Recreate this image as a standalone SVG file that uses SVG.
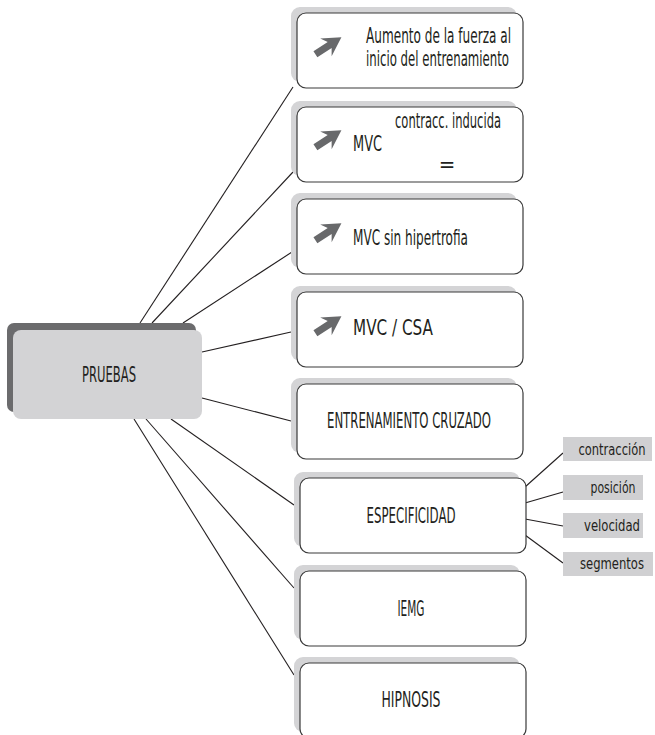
<svg xmlns="http://www.w3.org/2000/svg" width="655" height="735" viewBox="0 0 655 735">
  <style>
    .shadow { fill: #d4d4d6; }
    .card { fill: #ffffff; stroke: #3a3a3a; stroke-width: 1.2; }
    .txt { font-family: "Liberation Sans Narrow", "DejaVu Sans Condensed", "Liberation Sans", sans-serif; font-size: 22px; fill: #231f20; }
    .small { font-size: 15px; text-anchor: middle; }
    .mid { text-anchor: middle; }
    .tag { fill: #d0d0d2; }
    .link { stroke: #231f20; stroke-width: 1.1; fill: none; }
    .up { fill: #68696b; }
  </style>
  <defs>
    <!-- heavy diagonal "increase" arrow -->
    <path id="rise" class="up" transform="rotate(-33)" d="M-15,-3.6 L2,-3.6 L-2.5,-10.5 L16,0 L-2.5,10.5 L2,3.6 L-15,3.6 Z"/>
    <!-- card shape: shadow offset up-left, white rounded panel -->
    <g id="card">
      <rect class="shadow" x="-6" y="-6" width="226" height="75" rx="9"/>
      <rect class="card" x="0" y="0" width="226" height="75" rx="9"/>
    </g>
  </defs>

  <!-- connectors -->
  <g id="connectors">
    <line class="link" x1="140" y1="323" x2="293" y2="87"/>
    <line class="link" x1="152" y1="323" x2="293" y2="172"/>
    <line class="link" x1="183" y1="323" x2="292" y2="252"/>
    <line class="link" x1="202" y1="352" x2="291" y2="332"/>
    <line class="link" x1="202" y1="398" x2="291" y2="421"/>
    <line class="link" x1="171" y1="419" x2="294" y2="505"/>
    <line class="link" x1="146" y1="419" x2="294" y2="588"/>
    <line class="link" x1="134" y1="419" x2="294" y2="675"/>
    <line class="link" x1="525" y1="487" x2="563" y2="453"/>
    <line class="link" x1="525" y1="503" x2="563" y2="492"/>
    <line class="link" x1="525" y1="519" x2="563" y2="526"/>
    <line class="link" x1="525" y1="535" x2="563" y2="563"/>
  </g>

  <!-- root node -->
  <g id="pruebas">
    <rect x="7" y="323" width="189" height="89" rx="7" fill="#6b6b6d"/>
    <rect x="13" y="330" width="189" height="89" rx="8" fill="#d3d3d5"/>
    <text class="txt mid" x="109" y="382" textLength="54" lengthAdjust="spacingAndGlyphs">PRUEBAS</text>
  </g>

  <g id="aumento">
    <use href="#card" x="297" y="13"/>
    <use href="#rise" x="328" y="46"/>
    <text class="txt" x="366" y="43" textLength="145" lengthAdjust="spacingAndGlyphs">Aumento de la fuerza al</text>
    <text class="txt" x="366" y="66" textLength="143" lengthAdjust="spacingAndGlyphs">inicio del entrenamiento</text>
  </g>

  <g id="mvc-inducida">
    <use href="#card" x="297" y="107"/>
    <use href="#rise" x="328" y="139"/>
    <text class="txt" x="353" y="151" textLength="29" lengthAdjust="spacingAndGlyphs">MVC</text>
    <text class="txt" x="395" y="128" textLength="106" lengthAdjust="spacingAndGlyphs">contracc. inducida</text>
    <text class="txt mid" x="447" y="172" font-size="18">=</text>
  </g>

  <g id="mvc-hipertrofia">
    <use href="#card" x="297" y="199"/>
    <use href="#rise" x="328" y="232"/>
    <text class="txt" x="353" y="245" textLength="115" lengthAdjust="spacingAndGlyphs">MVC sin hipertrofia</text>
  </g>

  <g id="mvc-csa">
    <use href="#card" x="297" y="292"/>
    <use href="#rise" x="328" y="325"/>
    <text class="txt" x="353" y="335" textLength="80" lengthAdjust="spacingAndGlyphs">MVC / CSA</text>
  </g>

  <g id="cruzado">
    <use href="#card" x="297" y="384"/>
    <text class="txt mid" x="409" y="428" textLength="164" lengthAdjust="spacingAndGlyphs">ENTRENAMIENTO CRUZADO</text>
  </g>

  <g id="especificidad">
    <use href="#card" x="300" y="478"/>
    <text class="txt mid" x="411" y="523" textLength="89" lengthAdjust="spacingAndGlyphs">ESPECIFICIDAD</text>
  </g>

  <g id="iemg">
    <use href="#card" x="300" y="571"/>
    <text class="txt mid" x="411" y="616" textLength="27" lengthAdjust="spacingAndGlyphs">IEMG</text>
  </g>

  <g id="hipnosis">
    <use href="#card" x="300" y="663"/>
    <text class="txt mid" x="411" y="707" textLength="59" lengthAdjust="spacingAndGlyphs">HIPNOSIS</text>
  </g>

  <g id="contraccion">
    <rect class="tag" x="563" y="437" width="89" height="24"/>
    <text class="txt small" x="612" y="455" textLength="67" lengthAdjust="spacingAndGlyphs">contracción</text>
  </g>
  <g id="posicion">
    <rect class="tag" x="563" y="475" width="80" height="25"/>
    <text class="txt small" x="613" y="493" textLength="45" lengthAdjust="spacingAndGlyphs">posición</text>
  </g>
  <g id="velocidad">
    <rect class="tag" x="563" y="513" width="80" height="25"/>
    <text class="txt small" x="612" y="531" textLength="56" lengthAdjust="spacingAndGlyphs">velocidad</text>
  </g>
  <g id="segmentos">
    <rect class="tag" x="563" y="552" width="90" height="24"/>
    <text class="txt small" x="612" y="569" textLength="64" lengthAdjust="spacingAndGlyphs">segmentos</text>
  </g>
</svg>
